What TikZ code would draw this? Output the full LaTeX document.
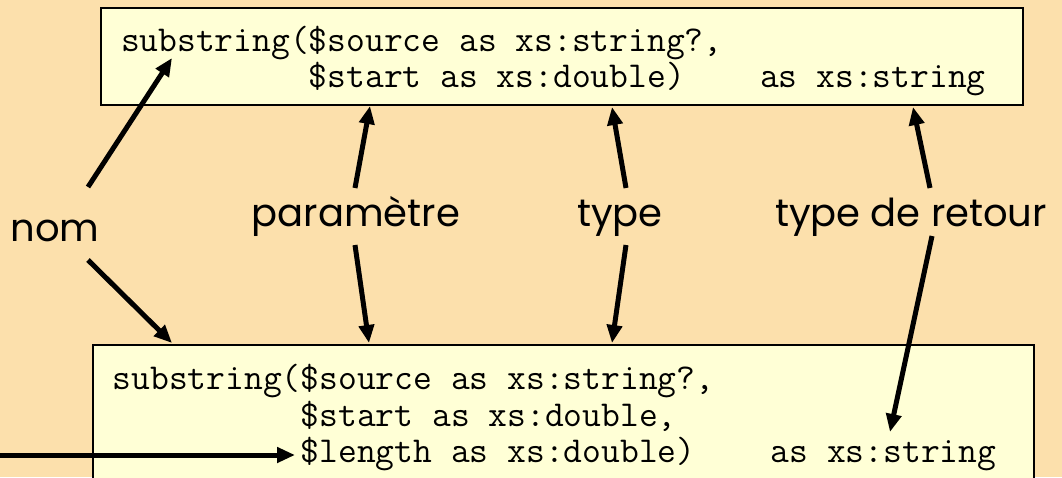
\documentclass[tikz,border=0pt]{standalone}
\usepackage{fontspec}
\newfontfamily\tagfont{Poppins}
\usetikzlibrary{arrows.meta}
\definecolor{peach}{RGB}{252,224,172}
\definecolor{paleyellow}{RGB}{255,255,214}
\newcommand\blank{\hphantom{x}}
\begin{document}
\begin{tikzpicture}[x=1pt,y=-1pt,
  codebox/.style={draw=black,line width=1.6pt,fill=paleyellow,inner xsep=20pt,inner ysep=0pt,align=left,
    font=\ttfamily\fontsize{36.5}{36.5}\selectfont},
  tag/.style={inner sep=0pt,anchor=base,font=\tagfont\fontsize{38.5}{42}\selectfont},
  ptr/.style={line width=5pt,-{Triangle[length=18pt,width=15pt]}}]
\fill[peach] (0,0) rectangle (1062,477);
\useasboundingbox (0,0) rectangle (1062,477);
\node[codebox,text width=882pt,minimum height=97pt] (sigA) at (562,56.5)
  {\rule{0pt}{34pt}substring(\$source\blank as\blank xs:string?,\\
   \hphantom{substring(}\$start\blank as\blank xs:double)\hphantom{xxxx}as\blank xs:string};
\node[codebox,text width=901pt,minimum height=146pt,anchor=north west] (sigB) at (92,344)
  {substring(\$source\blank as\blank xs:string?,\\
   \hphantom{substring(}\$start\blank as\blank xs:double,\\
   \hphantom{substring(}\$length\blank as\blank xs:double)\hphantom{xxxx}as\blank xs:string};
\node[tag] (nom) at (55,241) {nom};
\node[tag] (param) at (356,226) {paramètre};
\node[tag] (typ) at (620,226) {type};
\node[tag] (ret) at (911,226) {type de retour};
\coordinate (nameA) at (172,58);
\coordinate (nameB) at (172,343);
\coordinate (paramA) at (370,106);
\coordinate (paramB) at (369,343);
\coordinate (typA) at (612,107);
\coordinate (typB) at (612,343);
\coordinate (retA) at (913,107);
\coordinate (retB) at (890,432);
\coordinate (newarg) at (0,455);
\coordinate (newargB) at (295,455);
\draw[ptr] ([shift={(33,-54)}]nom.base) -- (nameA);
\draw[ptr] ([shift={(33,19)}]nom.base) -- (nameB);
\draw[ptr] ([shift={(-1,-38)}]param.base) -- (paramA);
\draw[ptr] ([shift={(-1,19)}]param.base) -- (paramB);
\draw[ptr] ([shift={(6,-38)}]typ.base) -- (typA);
\draw[ptr] ([shift={(6,19)}]typ.base) -- (typB);
\draw[ptr] ([shift={(19,-38)}]ret.base) -- (retA);
\draw[ptr] ([shift={(21,10)}]ret.base) -- (retB);
\draw[ptr] (newarg) -- (newargB);
\end{tikzpicture}
\end{document}
